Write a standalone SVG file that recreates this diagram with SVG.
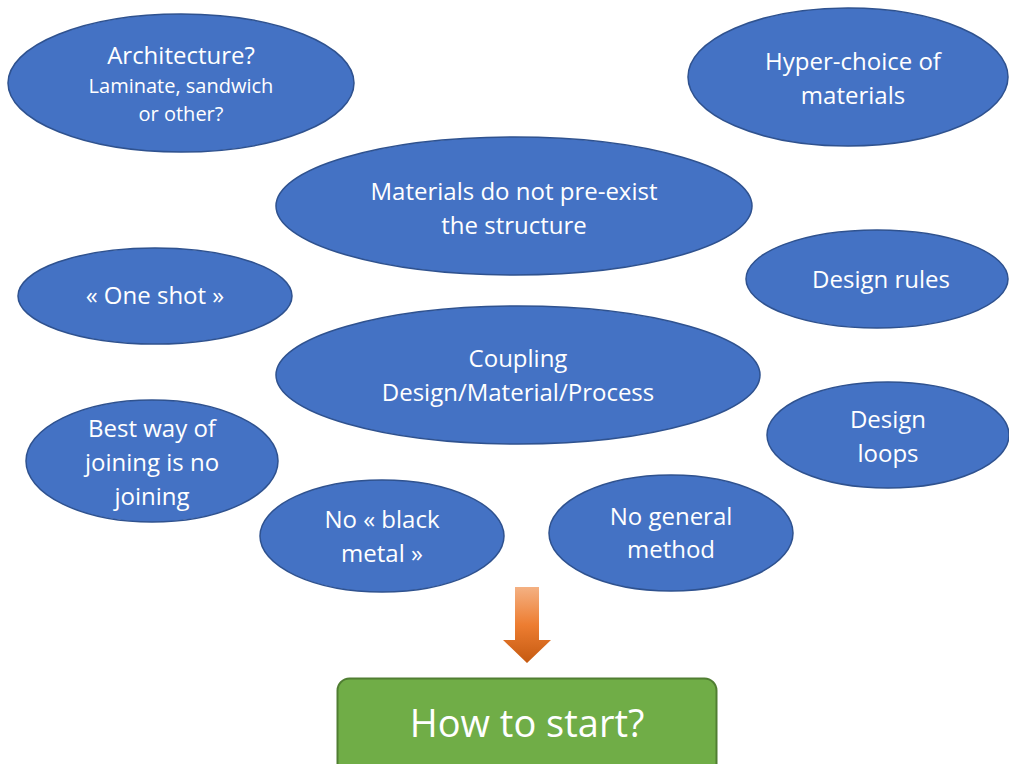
<svg xmlns="http://www.w3.org/2000/svg" width="1009" height="764" viewBox="0 0 1009 764">
<style>
.n ellipse{fill:#4472C4;stroke:#2F528F;stroke-width:1.5}
.t{font-family:"Open Sans","Noto Sans",sans-serif;font-size:24px;fill:#fff;text-anchor:middle}
.s{font-size:20px}
</style>
<defs>
<linearGradient id="og" x1="0" y1="0" x2="0" y2="1">
<stop offset="0" stop-color="#F4B183"/>
<stop offset="0.5" stop-color="#ED7D31"/>
<stop offset="1" stop-color="#C55A11"/>
</linearGradient>
</defs>
<rect width="1009" height="764" fill="#fff"/>
<g id="architecture" class="n"><ellipse cx="181" cy="83" rx="173" ry="69"/>
<text class="t" x="181" y="64">Architecture?</text>
<text class="t s" x="181" y="93">Laminate, sandwich</text>
<text class="t s" x="181" y="121">or other?</text></g>
<g id="hyperchoice" class="n"><ellipse cx="848" cy="77" rx="160" ry="69"/>
<text class="t" x="853" y="70">Hyper-choice of</text>
<text class="t" x="853" y="104">materials</text></g>
<g id="materials" class="n"><ellipse cx="514" cy="206" rx="238" ry="69"/>
<text class="t" x="514" y="200">Materials do not pre-exist</text>
<text class="t" x="514" y="234">the structure</text></g>
<g id="oneshot" class="n"><ellipse cx="155" cy="296" rx="137" ry="48"/>
<text class="t" x="155" y="304">« One shot »</text></g>
<g id="designrules" class="n"><ellipse cx="877" cy="279" rx="131" ry="49"/>
<text class="t" x="881" y="288">Design rules</text></g>
<g id="coupling" class="n"><ellipse cx="518" cy="375" rx="242" ry="69"/>
<text class="t" x="518" y="367">Coupling</text>
<text class="t" x="518" y="401">Design/Material/Process</text></g>
<g id="designloops" class="n"><ellipse cx="888" cy="435" rx="121" ry="53"/>
<text class="t" x="888" y="428">Design</text>
<text class="t" x="888" y="462">loops</text></g>
<g id="bestway" class="n"><ellipse cx="152" cy="461" rx="126" ry="61"/>
<text class="t" x="152" y="437">Best way of</text>
<text class="t" x="152" y="471">joining is no</text>
<text class="t" x="152" y="505">joining</text></g>
<g id="blackmetal" class="n"><ellipse cx="382" cy="536" rx="122" ry="56"/>
<text class="t" x="382" y="528">No « black</text>
<text class="t" x="382" y="562">metal »</text></g>
<g id="generalmethod" class="n"><ellipse cx="671" cy="533" rx="122" ry="58"/>
<text class="t" x="671" y="525">No general</text>
<text class="t" x="671" y="558">method</text></g>
<g id="connectors">
<path d="M515,587 H539 V640 H551 L527,663 L503,640 H515 Z" fill="url(#og)"/>
</g>
<g id="howtostart">
<rect x="337.5" y="678.5" width="379" height="100" rx="12" fill="#70AD47" stroke="#507E32" stroke-width="2"/>
<text x="527" y="737" font-family="'Open Sans','Noto Sans',sans-serif" font-size="38" fill="#fff" text-anchor="middle">How to start?</text>
</g>
</svg>
